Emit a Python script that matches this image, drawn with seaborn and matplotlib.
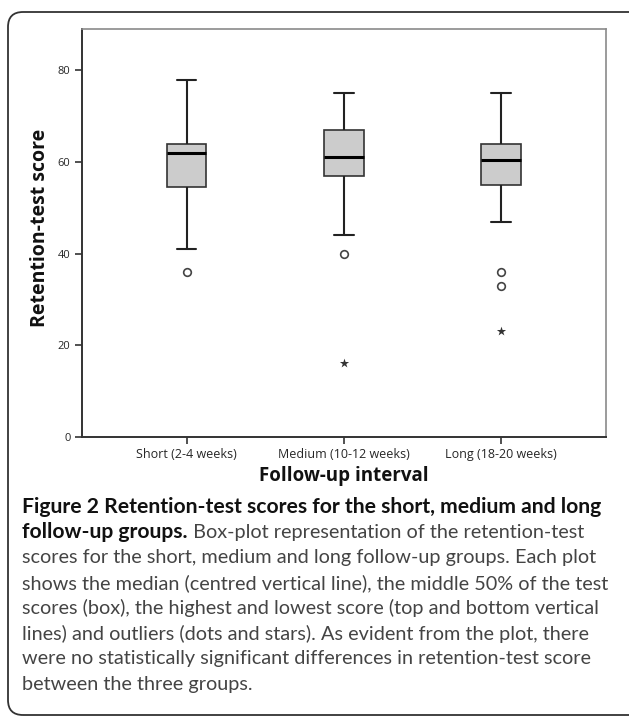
import numpy as np
import pandas as pd
import seaborn as sns
import matplotlib.pyplot as plt
from matplotlib.patches import FancyBboxPatch

# box-plot summary
groups = ['Short (2-4 weeks)', 'Medium (10-12 weeks)', 'Long (18-20 weeks)']
lowest = [41, 44, 47]
q1 = [54.5, 57, 55]
medians = [62, 61, 60.5]
q3 = [64, 67, 64]
highest = [78, 75, 75]

# outliers (circles) and extreme values (stars)
outlier_groups = ['Short (2-4 weeks)', 'Medium (10-12 weeks)', 'Long (18-20 weeks)', 'Long (18-20 weeks)']
outlier_scores = [36, 40, 36, 33]
extreme_groups = ['Medium (10-12 weeks)', 'Long (18-20 weeks)']
extreme_scores = [16, 23]

caption_head = 'Figure 2 Retention-test scores for the short, medium and long'
caption_head2 = 'follow-up groups.'
caption_lines = [
    ' Box-plot representation of the retention-test',
    'scores for the short, medium and long follow-up groups. Each plot',
    'shows the median (centred vertical line), the middle 50% of the test',
    'scores (box), the highest and lowest score (top and bottom vertical',
    'lines) and outliers (dots and stars). As evident from the plot, there',
    'were no statistically significant differences in retention-test score',
    'between the three groups.',
]

# table for seaborn: q1 / q3 doubled so the quartiles come out exactly
rows = []
for g, lo, a, m, b, hi in zip(groups, lowest, q1, medians, q3, highest):
    for v in [lo, a, a, m, b, b, hi]:
        rows.append((g, v))
box_df = pd.DataFrame(rows, columns=['group', 'score'])

sns.set_style('white')
plt.rcParams['font.family'] = ['Open Sans', 'DejaVu Sans']

W, H = 629, 720
fig = plt.figure(figsize=(W / 100, H / 100), dpi=100)
ax = fig.add_axes([81.7 / W, 1 - 436.7 / H, (606 - 81.7) / W, (436.7 - 29.3) / H])

sns.boxplot(data=box_df, x='group', y='score', order=groups, whis=(0, 100),
            showfliers=False, width=0.25, color='#cccccc', saturation=1,
            linecolor='#333333', linewidth=1.2,
            medianprops=dict(color='black', linewidth=2.2),
            whiskerprops=dict(color='#222222', linewidth=1.5),
            capprops=dict(color='#222222', linewidth=1.5),
            ax=ax)
sns.stripplot(x=outlier_groups, y=outlier_scores, order=groups, jitter=False,
              marker='o', color='white', edgecolor='#444444', linewidth=1.2,
              size=5.5, ax=ax, zorder=5)
sns.stripplot(x=extreme_groups, y=extreme_scores, order=groups, jitter=False,
              marker='*', color='#333333', size=7, linewidth=0, ax=ax, zorder=5)

ax.set_xlim(-0.667, 2.667)
ax.set_ylim(0, 89)
ax.set_yticks([0, 20, 40, 60, 80])
ax.set_xlabel('')
ax.set_ylabel('')
ax.tick_params(axis='both', direction='out', length=5, width=1.2, color='#333333',
               left=True, bottom=True, pad=3)
ax.tick_params(axis='y', labelsize=8)
ax.tick_params(axis='x', labelsize=9)
for side in ['left', 'bottom']:
    ax.spines[side].set_color('#333333')
    ax.spines[side].set_linewidth(1.4)
for side in ['top', 'right']:
    ax.spines[side].set_color('#8a8a8a')
    ax.spines[side].set_linewidth(1.2)

fig.text(40 / W, 1 - 228 / H, 'Retention-test score', rotation=90,
         ha='center', va='center', fontsize=14, fontweight='bold', color='#111111')
fig.text(344 / W, 1 - 476 / H, 'Follow-up interval', ha='center', va='center',
         fontsize=13.5, fontweight='bold', color='#111111')

# caption
cap_font = ['Lato', 'DejaVu Sans']
x0 = 22 / W
y_pos = [507 + 25.3 * i for i in range(8)]
fig.text(x0, 1 - y_pos[0] / H, caption_head, ha='left', va='center',
         fontsize=15.2, fontweight='bold', family=cap_font, color='#111111')
t = fig.text(x0, 1 - y_pos[1] / H, caption_head2, ha='left', va='center',
             fontsize=15.2, fontweight='bold', family=cap_font, color='#111111')
fig.canvas.draw()
bb = t.get_window_extent().transformed(fig.transFigure.inverted())
fig.text(bb.x1, 1 - y_pos[1] / H, caption_lines[0], ha='left', va='center',
         fontsize=14.3, fontweight='normal', family=cap_font, color='#444444')
for i, line in enumerate(caption_lines[1:]):
    fig.text(x0, 1 - y_pos[i + 2] / H, line, ha='left', va='center',
             fontsize=14.3, fontweight='normal', family=cap_font, color='#444444')

# rounded frame round the whole figure
frame = FancyBboxPatch((0.08, 0.05), 6.5, 7.03,
                       boxstyle='round,pad=0,rounding_size=0.15',
                       transform=fig.dpi_scale_trans, fill=False,
                       edgecolor='#333333', linewidth=1.3)
fig.patches.append(frame)

fig.savefig('out.png', dpi=100)
